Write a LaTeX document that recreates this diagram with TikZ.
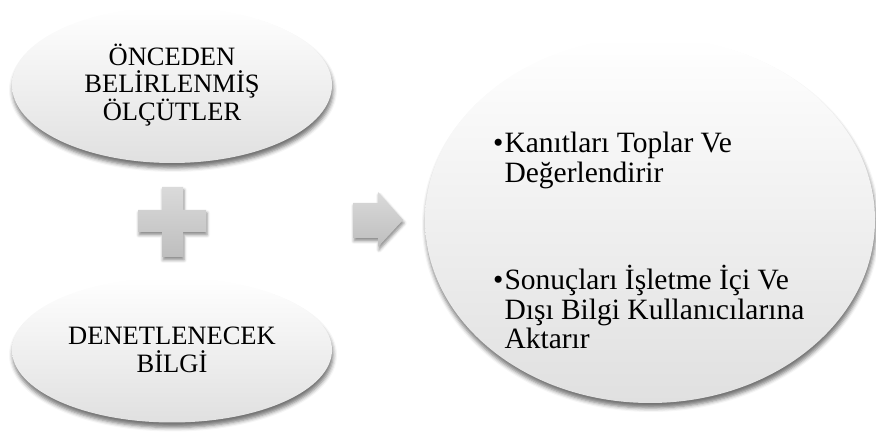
\documentclass[tikz,border=0pt]{standalone}
\usepackage{fontspec}
\setmainfont{Liberation Serif}
\usepackage{tikz}
\usetikzlibrary{shapes,positioning,shadows,shadows.blur}
\usepackage{xcolor}
\definecolor{ovalbottom}{RGB}{224,224,224}
\definecolor{signtop}{RGB}{218,218,218}
\definecolor{signbottom}{RGB}{190,190,190}
\tikzstyle{oval} = [ellipse, inner sep=0pt, text centered, align=center, top color=white, middle color=white, bottom color=ovalbottom, blur shadow={shadow xshift=1pt, shadow yshift=-5pt, shadow blur radius=4pt, shadow opacity=55}]
\tikzstyle{sign} = [top color=signtop, bottom color=signbottom, blur shadow={shadow xshift=1pt, shadow yshift=-3pt, shadow blur radius=3pt, shadow opacity=45}]
\tikzstyle{itemtext} = [anchor=base west, inner sep=0pt, font=\fontsize{29.5}{29}\selectfont]

\begin{document}
\begin{tikzpicture}[x=1pt,y=1pt]
\useasboundingbox (0,0) rectangle (876,436);

% Left ovals
\node[oval, minimum width=320pt, minimum height=156pt, font=\fontsize{26.5}{26.5}\selectfont] (criteria) at (172,351) {ÖNCEDEN\\BELİRLENMİŞ\\ÖLÇÜTLER};
\node[oval, minimum width=320pt, minimum height=145pt, font=\fontsize{26.5}{28.5}\selectfont] (info) at (172,86) {DENETLENECEK\\BİLGİ};

% Plus sign
\path[sign] (138,226) -- (162,226) -- (162,249) -- (183,249) -- (183,226) -- (206,226)
  -- (206,204) -- (183,204) -- (183,179) -- (162,179) -- (162,204) -- (138,204) -- cycle;

% Arrow
\path[sign] (353,233) -- (378,233) -- (378,244) -- (403,216) -- (378,189) -- (378,198) -- (353,198) -- cycle;

% Right oval
\node[oval, minimum width=450pt, minimum height=366pt] (auditor) at (650,216) {};

% Items
\node[itemtext] (collect) at (493,283) {\begin{tabular}[t]{@{}l@{\hspace{1pt}}l@{}}\textbullet & Kanıtları Toplar Ve\\ & Değerlendirir\end{tabular}};
\node[itemtext] (report) at (493,146) {\begin{tabular}[t]{@{}l@{\hspace{1pt}}l@{}}\textbullet & Sonuçları İşletme İçi Ve\\ & Dışı Bilgi Kullanıcılarına\\ & Aktarır\end{tabular}};
\end{tikzpicture}
\end{document}
